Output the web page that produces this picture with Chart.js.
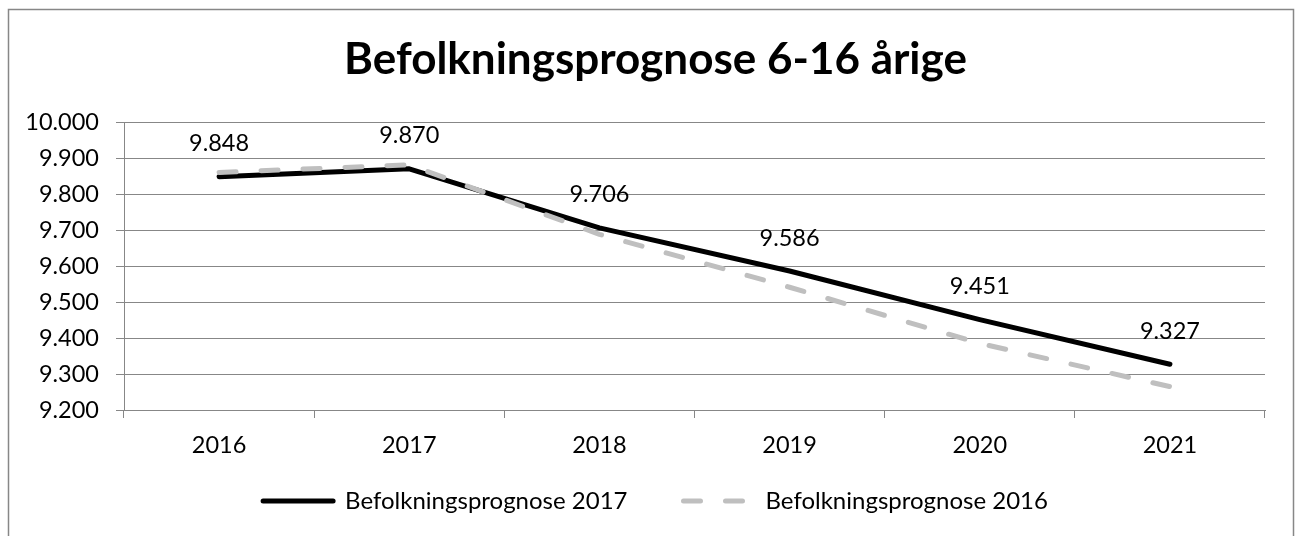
<!DOCTYPE html>
<html>
<head>
<meta charset="utf-8">
<title>Befolkningsprognose 6-16 årige</title>
<script src="https://cdn.jsdelivr.net/npm/chart.js@4.4.1/dist/chart.umd.min.js"></script>
<style>
    html, body { margin: 0; padding: 0; background: #fff; }
    #wrap { position: relative; width: 1311px; height: 536px; }
</style>
</head>
<body>
<div id="wrap"><canvas id="prognoseChart"></canvas></div>
<script>
// Data
const chartTitle = 'Befolkningsprognose 6-16 årige';
const years = ['2016', '2017', '2018', '2019', '2020', '2021'];
const seriesNames = ['Befolkningsprognose 2017', 'Befolkningsprognose 2016'];
const prognose2017 = [9848, 9870, 9706, 9586, 9451, 9327];
const prognose2016 = [9860, 9881, 9688, 9541, 9385, 9265];
const yTicks = [9200, 9300, 9400, 9500, 9600, 9700, 9800, 9900, 10000];

const FONT = 'Lato, "Open Sans", sans-serif';
const GRID = '#878787';

// 9848 -> "9.848" (danish thousands separator)
function formatDanish(value) {
    const thousands = Math.floor(value / 1000);
    const rest = String(value % 1000).padStart(3, '0');
    return thousands + '.' + rest;
}

// outer frame around the whole chart
const framePlugin = {
    id: 'frame',
    beforeDraw(chart) {
        const ctx = chart.ctx;
        ctx.save();
        ctx.fillStyle = '#ffffff';
        ctx.fillRect(0, 0, chart.width, chart.height);
        ctx.strokeStyle = GRID;
        ctx.lineWidth = 1.5;
        ctx.strokeRect(8.5, 9.5, 1285, 600);
        ctx.restore();
    }
};

// legend padding is also the gap between the items, so lift the legend a bit
const legendLiftPlugin = {
    id: 'legendLift',
    afterLayout(chart) {
        chart.legend.top -= 27;
        chart.legend.height += 27;
    }
};

// value labels above the 2017 line
const valueLabelPlugin = {
    id: 'valueLabels',
    afterDatasetsDraw(chart) {
        const ctx = chart.ctx;
        const meta = chart.getDatasetMeta(0);
        ctx.save();
        ctx.font = '23.5px ' + FONT;
        ctx.fillStyle = '#000';
        ctx.textAlign = 'center';
        ctx.textBaseline = 'middle';
        meta.data.forEach((point, i) => {
            ctx.fillText(formatDanish(prognose2017[i]), point.x, point.y - 33);
        });
        ctx.restore();
    }
};

const ctx = document.getElementById('prognoseChart').getContext('2d');
new Chart(ctx, {
    type: 'line',
    data: {
        labels: years,
        datasets: [{
            label: seriesNames[0],
            data: prognose2017,
            borderColor: '#000000',
            backgroundColor: '#000000',
            borderWidth: 5,
            borderCapStyle: 'round',
            borderJoinStyle: 'round',
            pointRadius: 0,
            pointStyle: 'line',
            tension: 0,
            order: 2
        }, {
            label: seriesNames[1],
            data: prognose2016,
            borderColor: '#bfbfbf',
            backgroundColor: '#bfbfbf',
            borderWidth: 5,
            borderDash: [17, 25],
            borderCapStyle: 'round',
            borderJoinStyle: 'round',
            pointRadius: 0,
            pointStyle: 'line',
            tension: 0,
            order: 1
        }]
    },
    options: {
        responsive: true,
        maintainAspectRatio: false,
        animation: false,
        events: [],
        layout: {
            padding: { left: 23, right: 23, top: 0, bottom: 0 }
        },
        scales: {
            x: {
                offset: true,
                grid: {
                    offset: true,
                    drawOnChartArea: false,
                    tickLength: 8,
                    color: GRID
                },
                border: { color: GRID },
                ticks: {
                    color: '#000',
                    padding: 13,
                    maxRotation: 0,
                    font: { family: FONT, size: 23.5 }
                },
                afterFit: s => { s.height = 50; }
            },
            y: {
                min: 9200,
                max: 10000,
                grid: { color: GRID, tickLength: 8 },
                border: { color: GRID },
                ticks: {
                    color: '#000',
                    padding: 17,
                    font: { family: FONT, size: 23.5 },
                    callback: value => formatDanish(value)
                },
                afterBuildTicks: s => { s.ticks = yTicks.map(v => ({ value: v })); },
                afterFit: s => { s.width = 101; }
            },
            // empty axis on the right, keeps the plot narrower than the frame
            yRight: {
                position: 'right',
                display: true,
                grid: { display: false },
                border: { display: false },
                ticks: { display: false },
                afterFit: s => { s.width = 23; }
            }
        },
        plugins: {
            title: {
                display: true,
                text: chartTitle,
                color: '#000',
                font: { family: FONT, size: 44, weight: 'bold', lineHeight: 1.2 },
                padding: { top: 33.6, bottom: 35.6 }
            },
            legend: {
                display: true,
                position: 'bottom',
                maxHeight: 76,
                labels: {
                    usePointStyle: true,
                    pointStyleWidth: 70,
                    padding: 56,
                    color: '#000',
                    font: { family: FONT, size: 24 },
                    sort: (a, b) => a.datasetIndex - b.datasetIndex,
                    generateLabels: chart => {
                        const items = Chart.defaults.plugins.legend.labels.generateLabels(chart);
                        items.forEach(item => {
                            const ds = chart.data.datasets[item.datasetIndex];
                            item.lineDash = ds.borderDash || [];
                            item.lineCap = 'round';
                        });
                        return items;
                    }
                }
            },
            tooltip: { enabled: false }
        }
    },
    plugins: [framePlugin, legendLiftPlugin, valueLabelPlugin]
});
</script>
</body>
</html>
